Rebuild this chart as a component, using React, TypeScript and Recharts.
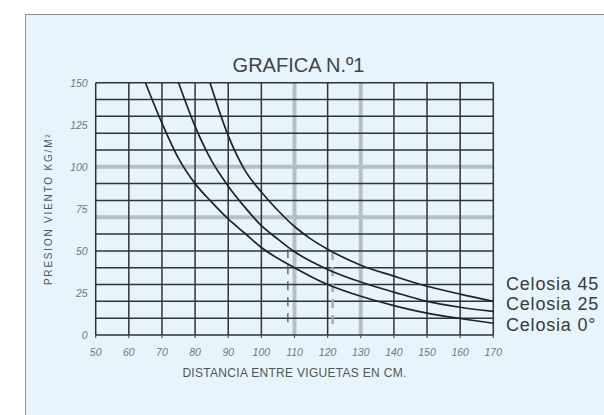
import React from 'react';
import { LineChart, Line, XAxis, YAxis, ReferenceLine, Legend } from 'recharts';

// ---- data ----
const xTicks = [50, 60, 70, 80, 90, 100, 110, 120, 130, 140, 150, 160, 170];
const yTicks = [0, 25, 50, 75, 100, 125, 150];

const gridX = [50, 60, 70, 80, 90, 100, 120, 140, 150, 160, 170];
const gridXLight = [110, 130];
const gridY = [0, 10, 20, 30, 40, 50, 60, 80, 90, 110, 120, 130, 140, 150];
const gridYLight = [70, 100];

const celosia0X = [65, 70, 75, 80, 85, 90, 95, 100, 110, 120, 130, 140, 150, 160, 170];
const celosia0P = [150, 126, 105, 90, 79, 69, 60.5, 52, 40, 30, 23, 17.5, 13, 9.8, 7];

const celosia25X = [75, 80, 85, 90, 95, 100, 105, 110, 120, 130, 140, 150, 160, 170];
const celosia25P = [150, 124, 103.5, 88.5, 76, 65, 57, 49.5, 39, 31.5, 25.5, 20, 16.5, 14];

const celosia45X = [84.5, 90, 95, 100, 105, 110, 115, 120, 130, 140, 150, 160, 170];
const celosia45P = [150, 118.5, 98, 85, 74, 64.5, 57, 51, 41.5, 35, 29, 24.3, 20];

const dropX = [108, 121.5];
const dropTop = [51, 50];
const dropBottom = [6, 6];

const seriesNames = ['Celosia 0°', 'Celosia 25', 'Celosia 45'];

const toPoints = (xs: number[], ps: number[]) => xs.map((x, i) => ({ x, p: ps[i] }));
const series0 = toPoints(celosia0X, celosia0P);
const series25 = toPoints(celosia25X, celosia25P);
const series45 = toPoints(celosia45X, celosia45P);

const FONT = '"Liberation Sans", Arial, sans-serif';
const GRID = '#333333';
const LIGHT = '#b6bfc4';

const XTick = (props: any) => {
  const { x, y, payload } = props;
  return (
    <text x={x} y={y} dy={16} textAnchor="middle" fontFamily={FONT} fontSize={10.5} fontStyle="italic" fill="#777">
      {payload.value}
    </text>
  );
};

const YTick = (props: any) => {
  const { x, y, payload } = props;
  return (
    <text x={x} y={y} dy={3.8} textAnchor="end" fontFamily={FONT} fontSize={10.5} fontStyle="italic" fill="#777">
      {payload.value}
    </text>
  );
};

const XLabel = (props: any) => {
  const vb = props.viewBox || {};
  return (
    <text x={vb.x + vb.width / 2} y={vb.y + 42} textAnchor="middle" fontFamily={FONT} fontSize={12} letterSpacing={0.3} fill="#555">
      DISTANCIA ENTRE VIGUETAS EN CM.
    </text>
  );
};

const YLabel = (props: any) => {
  const vb = props.viewBox || {};
  const cx = vb.x + 16.5;
  const cy = vb.y + vb.height / 2;
  return (
    <text x={cx} y={cy} transform={`rotate(-90 ${cx} ${cy})`} textAnchor="middle" fontFamily={FONT} fontSize={10} letterSpacing={1.8} fill="#555">
      PRESION VIENTO KG/M²
    </text>
  );
};

const LegendContent = (props: any) => {
  const payload = props.payload && props.payload.length ? [...props.payload].reverse() : [];
  const names = payload.length ? payload.map((p: any) => p.value) : [...seriesNames].reverse();
  return (
    <div style={{ fontFamily: FONT, fontSize: 18, lineHeight: '20.7px', letterSpacing: 0.8, color: '#3a3a3a', whiteSpace: 'nowrap' }}>
      {names.map((n: string) => (
        <div key={n}>{n}</div>
      ))}
    </div>
  );
};

export default function App() {
  return (
    <div style={{ position: 'absolute', left: 0, top: 0, width: 604, height: 415, overflow: 'hidden', background: '#ffffff' }}>
      <div
        style={{
          position: 'absolute',
          left: 25,
          top: 14,
          width: 700,
          height: 600,
          background: '#e7f4fb',
          border: '1.5px solid #8e8e8e',
          boxSizing: 'border-box',
        }}
      />
      <div style={{ position: 'absolute', left: 0, top: 0 }}>
        <LineChart width={604} height={415} margin={{ top: 82.7, right: 110.7, bottom: 50, left: 35.7 }}>
          <XAxis
            type="number"
            dataKey="x"
            domain={[50, 170]}
            ticks={xTicks}
            interval={0}
            allowDataOverflow
            axisLine={false}
            tickLine={{ stroke: '#555', strokeWidth: 1.2 }}
            tickSize={3}
            height={30}
            tick={XTick}
            label={XLabel}
          />
          <YAxis
            type="number"
            domain={[0, 150]}
            ticks={yTicks}
            interval={0}
            allowDataOverflow
            axisLine={false}
            tickLine={false}
            tickSize={0}
            tickMargin={8}
            width={60}
            tick={YTick}
            label={YLabel}
          />
          {gridYLight.map((v) => (
            <ReferenceLine key={'yl' + v} y={v} stroke={LIGHT} strokeWidth={4} />
          ))}
          {gridXLight.map((v) => (
            <ReferenceLine key={'xl' + v} x={v} stroke={LIGHT} strokeWidth={4} />
          ))}
          {gridY.map((v) => (
            <ReferenceLine key={'y' + v} y={v} stroke={GRID} strokeWidth={1.5} />
          ))}
          {gridX.map((v) => (
            <ReferenceLine key={'x' + v} x={v} stroke={GRID} strokeWidth={1.5} />
          ))}
          <ReferenceLine
            segment={[{ x: dropX[0], y: dropTop[0] }, { x: dropX[0], y: dropBottom[0] }]}
            stroke="#555"
            strokeWidth={1.3}
            strokeDasharray="9 7"
          />
          <ReferenceLine
            segment={[{ x: dropX[1], y: dropTop[1] }, { x: dropX[1], y: dropBottom[1] }]}
            stroke="#a8a8a8"
            strokeWidth={2.4}
            strokeDasharray="9 7"
          />
          <Line data={series0} dataKey="p" name={seriesNames[0]} type="monotone" stroke="#222" strokeWidth={1.7} dot={false} activeDot={false} isAnimationActive={false} />
          <Line data={series25} dataKey="p" name={seriesNames[1]} type="monotone" stroke="#222" strokeWidth={1.7} dot={false} activeDot={false} isAnimationActive={false} />
          <Line data={series45} dataKey="p" name={seriesNames[2]} type="monotone" stroke="#222" strokeWidth={1.7} dot={false} activeDot={false} isAnimationActive={false} />
          <Legend
            layout="horizontal"
            verticalAlign="middle"
            align="center"
            content={LegendContent}
            wrapperStyle={{ left: 506, top: 273.5, width: 98, height: 64 }}
          />
        </LineChart>
      </div>
      <svg width={604} height={415} style={{ position: 'absolute', left: 0, top: 0, pointerEvents: 'none' }}>
        <text x={298.5} y={71.5} textAnchor="middle" fontFamily={FONT} fontSize={20} fill="#444">
          GRAFICA N.º1
        </text>
      </svg>
    </div>
  );
}
